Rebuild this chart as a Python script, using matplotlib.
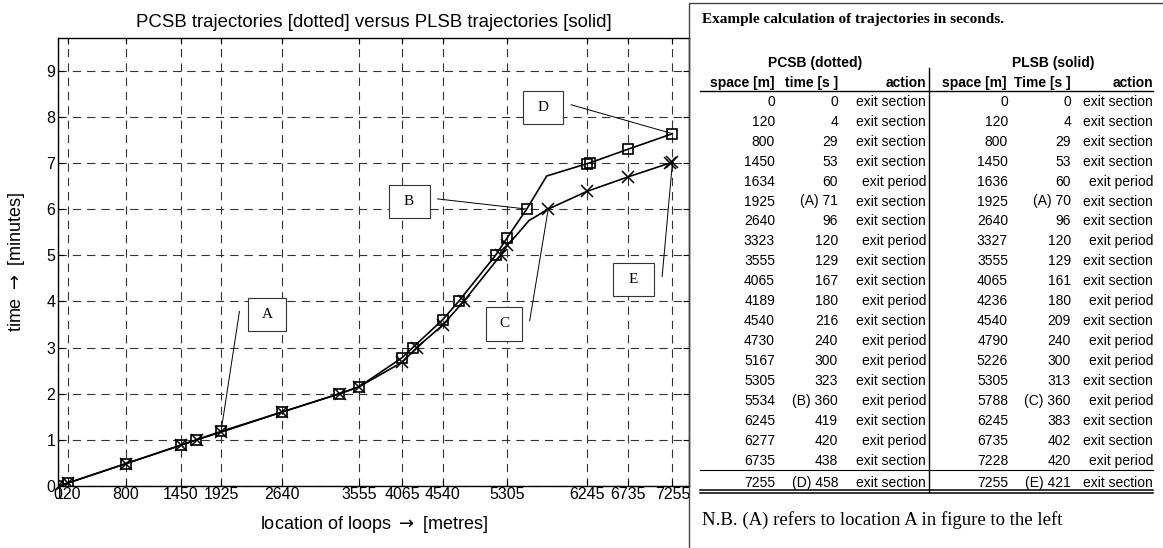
import matplotlib
matplotlib.use("Agg")
import numpy as np
import matplotlib.pyplot as plt
from matplotlib.patches import Rectangle

plt.rcParams["font.family"] = ["Liberation Sans", "DejaVu Sans"]
plt.rcParams["lines.scale_dashes"] = False

# PCSB (dotted) trajectory, table values
pcsb_space = [0, 120, 800, 1450, 1634, 1925, 2640, 3323, 3555, 4065,
              4189, 4540, 4730, 5167, 5305, 5534, 6245, 6277, 6735, 7255]
pcsb_time = [0, 4, 29, 53, 60, 71, 96, 120, 129, 167,
             180, 216, 240, 300, 323, 360, 419, 420, 438, 458]
pcsb_action = ["exit section"] * 4 + ["exit period", "exit section", "exit section",
               "exit period", "exit section", "exit section", "exit period",
               "exit section", "exit period", "exit period", "exit section",
               "exit period", "exit section", "exit period", "exit section",
               "exit section"]
pcsb_tag = {5: "A", 15: "B", 19: "D"}

# PLSB (solid) trajectory, table values
plsb_space = [0, 120, 800, 1450, 1636, 1925, 2640, 3327, 3555, 4065,
              4236, 4540, 4790, 5226, 5305, 5788, 6245, 6735, 7228, 7255]
plsb_time = [0, 4, 29, 53, 60, 70, 96, 120, 129, 161,
             180, 209, 240, 300, 313, 360, 383, 402, 420, 421]
plsb_action = ["exit section"] * 4 + ["exit period", "exit section", "exit section",
               "exit period", "exit section", "exit section", "exit period",
               "exit section", "exit period", "exit period", "exit section",
               "exit period", "exit section", "exit section", "exit period",
               "exit section"]
plsb_tag = {5: "A", 15: "C", 19: "E"}

# extra trajectory vertices (no marker)
pcsb_bend_space, pcsb_bend_time = [5770], [403]
plsb_bend_space, plsb_bend_time = [5420, 5560], [327, 345]

x_ticks = [0, 120, 800, 1450, 1925, 2640, 3555, 4065, 4540, 5305, 6245, 6735, 7255]
y_ticks = list(range(10))

W, H = 1163, 548
fig = plt.figure(figsize=(W / 100, H / 100), dpi=100)
ax = fig.add_axes([58 / W, 1 - 486 / H, (689 - 58) / W, (486 - 38.3) / H])

grid_kw = dict(color="#333333", lw=0.8, dashes=(6, 4.3), zorder=1)
for xt in x_ticks:
    ax.axvline(xt, **grid_kw)
for yt in y_ticks:
    ax.axhline(yt, **grid_kw)


def path(sp, tm, bsp, btm):
    pts = sorted(zip(list(sp) + bsp, list(tm) + btm))
    return np.array([p[0] for p in pts]), np.array([p[1] for p in pts]) / 60


px, py = path(pcsb_space, pcsb_time, pcsb_bend_space, pcsb_bend_time)
lx, ly = path(plsb_space, plsb_time, plsb_bend_space, plsb_bend_time)
ax.plot(px, py, color="black", lw=1.2, zorder=3)
ax.plot(lx, ly, color="black", lw=1.2, zorder=3)
ax.plot(pcsb_space, np.array(pcsb_time) / 60, ls="none", marker="s", ms=7,
        mfc="none", mec="black", mew=1.2, zorder=4)
ax.plot(plsb_space, np.array(plsb_time) / 60, ls="none", marker="x", ms=8,
        mec="black", mew=1.1, zorder=4)

# annotation boxes: label, box centre, box width (px), leader start, target
sx, sy = 0.08463, 46.14
boxes = [
    ("A", (2466, 3.72), 38, (2142, 3.78), (pcsb_space[5], pcsb_time[5] / 60)),
    ("B", (4145, 6.155), 41, (4482, 6.22), (pcsb_space[15], pcsb_time[15] / 60)),
    ("C", (5267, 3.51), 36, (5569, 3.58), (plsb_space[15], plsb_time[15] / 60)),
    ("D", (5723, 8.197), 40, (6058, 8.26), (pcsb_space[19], pcsb_time[19] / 60)),
    ("E", (6794, 4.47), 41, (7133, 4.54), (plsb_space[19], plsb_time[19] / 60)),
]
for lab, (cx, cy), wpx, start, end in boxes:
    bw, bh = wpx / sx, 33 / sy
    ax.add_patch(Rectangle((cx - bw / 2, cy - bh / 2), bw, bh, facecolor="white",
                           edgecolor="#333333", lw=0.8, zorder=5))
    ax.text(cx, cy, lab, ha="center", va="center", family="Liberation Serif",
            fontsize=11, zorder=6)
    ax.plot([start[0], end[0]], [start[1], end[1]], color="black", lw=0.7, zorder=5)

ax.set_xlim(0, 7450)
ax.set_ylim(0, 9.7)
ax.set_xticks(x_ticks)
ax.set_yticks(y_ticks)
ax.tick_params(direction="in", length=4, top=True, right=True, labelsize=11.5, pad=2)
ax.tick_params(axis="x", pad=1)
for s in ax.spines.values():
    s.set_linewidth(1.0)
ax.set_title("PCSB trajectories [dotted] versus PLSB trajectories [solid]",
             fontsize=13.4, pad=8)
ax.set_xlabel(r"location of loops $\rightarrow$ [metres]", fontsize=13)
ax.set_ylabel(r"time $\rightarrow$ [minutes]", fontsize=13)
ax.xaxis.set_label_coords(0.5, -0.062)
ax.yaxis.set_label_coords(-0.049, 0.5)

# right panel drawn in pixel coordinates
ov = fig.add_axes([0, 0, 1, 1])
ov.set_xlim(0, W)
ov.set_ylim(H, 0)
ov.axis("off")
ov.plot([689, 689, W], [H, 3, 3], color="#444444", lw=1.0)

ov.text(702, 20, "Example calculation of trajectories in seconds.",
        family="Liberation Serif", weight="bold", fontsize=11, va="center")
ov.text(815, 63, "PCSB (dotted)", weight="bold", fontsize=10, ha="center", va="center")
ov.text(1053, 63, "PLSB (solid)", weight="bold", fontsize=10, ha="center", va="center")
heads = [("space [m]", 774), ("time [s ]", 838), ("action", 926),
         ("space [m]", 1006), ("Time [s ]", 1071), ("action", 1153)]
for txt, xr in heads:
    ov.text(xr, 83, txt, weight="bold", fontsize=10, ha="right", va="center")

cols = [775, 838, 926, 1008, 1071, 1153]
for i in range(len(pcsb_space)):
    y = 101.7 + i * 19.96 if i < len(pcsb_space) - 1 else 483.3
    t1 = (f"({pcsb_tag[i]}) " if i in pcsb_tag else "") + str(pcsb_time[i])
    t2 = (f"({plsb_tag[i]}) " if i in plsb_tag else "") + str(plsb_time[i])
    vals = [str(pcsb_space[i]), t1, pcsb_action[i], str(plsb_space[i]), t2, plsb_action[i]]
    for v, xr in zip(vals, cols):
        ov.text(xr, y, v, fontsize=10, ha="right", va="center")

ov.plot([700, 1153], [90.5, 90.5], color="black", lw=1.0)
ov.plot([928.5, 928.5], [68, 492], color="black", lw=1.0)
ov.plot([700, 1153], [469.5, 469.5], color="black", lw=0.8)
ov.plot([700, 1153], [490.3, 490.3], color="black", lw=1.1)
ov.plot([700, 1153], [493, 493], color="black", lw=1.1)

ov.text(702, 520, "N.B. (A) refers to location A in figure to the left",
        family="Liberation Serif", fontsize=13.5, va="center")

fig.savefig("out.png", dpi=100)
